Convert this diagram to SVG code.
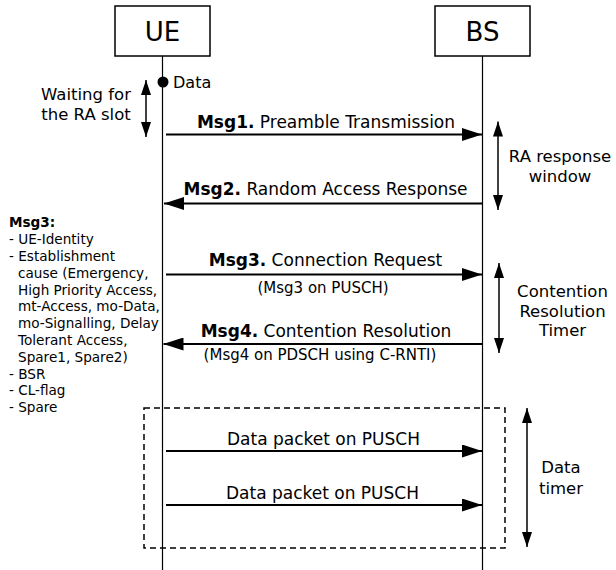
<svg xmlns="http://www.w3.org/2000/svg" width="616" height="570" viewBox="0 0 616 570">
  <defs>
    <style>
      text { font-family: "DejaVu Sans", "Noto Sans", sans-serif; fill: #000; }
      .box { fill: #fff; stroke: #000; stroke-width: 1.5; }
      .boxlabel { font-size: 26px; text-anchor: middle; }
      .life { stroke: #000; stroke-width: 1.2; fill: none; }
      .msg { stroke: #000; stroke-width: 1.8; fill: none; marker-end: url(#ah); }
      .dbl { stroke: #000; stroke-width: 1.5; fill: none; marker-start: url(#vh); marker-end: url(#vh); }
      .lbl { font-size: 17px; text-anchor: middle; }
      .sub { font-size: 15px; text-anchor: middle; }
      .side { font-size: 16.5px; text-anchor: middle; }
      .note { font-size: 13.6px; }
      .b { font-weight: bold; }
      .dash { fill: none; stroke: #000; stroke-width: 1.5; stroke-dasharray: 6 4; }
    </style>
    <marker id="ah" viewBox="0 0 20 13" refX="20" refY="6.5" markerWidth="20" markerHeight="13" markerUnits="userSpaceOnUse" orient="auto">
      <path d="M0,0 L20,6.5 L0,13 z" fill="#000"/>
    </marker>
    <marker id="vh" viewBox="0 0 15 10" refX="15" refY="5" markerWidth="15" markerHeight="10" markerUnits="userSpaceOnUse" orient="auto-start-reverse">
      <path d="M0,0 L15,5 L0,10 z" fill="#000"/>
    </marker>
  </defs>

  <g id="UE">
    <line class="life" x1="162.5" y1="56" x2="162.5" y2="570"/>
    <rect class="box" x="115" y="6" width="95" height="50"/>
    <text class="boxlabel" x="162.5" y="40.5">UE</text>
  </g>
  <g id="BS">
    <line class="life" x1="482.5" y1="56" x2="482.5" y2="570"/>
    <rect class="box" x="435" y="6" width="95" height="50"/>
    <text class="boxlabel" x="482.5" y="41">BS</text>
  </g>

  <g id="data-event">
    <circle cx="163" cy="82" r="5.5" fill="#000"/>
    <text x="173" y="87.5" style="font-size:16px">Data</text>
  </g>

  <g id="waiting">
    <line class="dbl" x1="146" y1="80" x2="146" y2="137"/>
    <text class="side" x="86" y="100">Waiting for</text>
    <text class="side" x="86" y="120">the RA slot</text>
  </g>

  <g id="msg3-note">
    <text class="note" x="9" y="227.3"><tspan class="b">Msg3:</tspan></text>
    <text class="note" x="9" y="244.1">- UE-Identity</text>
    <text class="note" x="9" y="260.9">- Establishment</text>
    <text class="note" x="18" y="277.7">cause (Emergency,</text>
    <text class="note" x="18" y="294.5">High Priority Access,</text>
    <text class="note" x="18" y="311.3">mt-Access, mo-Data,</text>
    <text class="note" x="18" y="328.1">mo-Signalling, Delay</text>
    <text class="note" x="18" y="344.9">Tolerant Access,</text>
    <text class="note" x="18" y="361.7">Spare1, Spare2)</text>
    <text class="note" x="9" y="378.5">- BSR</text>
    <text class="note" x="9" y="395.3">- CL-flag</text>
    <text class="note" x="9" y="412.1">- Spare</text>
  </g>

  <g id="connectors">
    <line class="msg" x1="166" y1="134.5" x2="482" y2="134.5"/>
    <line class="msg" x1="482" y1="203.5" x2="164" y2="203.5"/>
    <line class="msg" x1="166" y1="274.5" x2="482" y2="274.5"/>
    <line class="msg" x1="482" y1="344" x2="163.5" y2="344"/>
    <line class="msg" x1="166" y1="451" x2="482" y2="451"/>
    <line class="msg" x1="166" y1="505" x2="482" y2="505"/>
  </g>

  <g id="labels">
    <text class="lbl" x="326" y="128"><tspan class="b">Msg1.</tspan> Preamble Transmission</text>
    <text class="lbl" x="325.5" y="195"><tspan class="b">Msg2.</tspan> Random Access Response</text>
    <text class="lbl" x="325.5" y="265.5"><tspan class="b">Msg3.</tspan> Connection Request</text>
    <text class="sub" x="323" y="292.5">(Msg3 on PUSCH)</text>
    <text class="lbl" x="326" y="337"><tspan class="b">Msg4.</tspan> Contention Resolution</text>
    <text class="sub" x="320" y="360">(Msg4 on PDSCH using C-RNTI)</text>
    <text class="lbl" x="323.5" y="445">Data packet on PUSCH</text>
    <text class="lbl" x="322.5" y="498.5">Data packet on PUSCH</text>
  </g>

  <g id="ra-window">
    <line class="dbl" x1="498" y1="121.5" x2="498" y2="210"/>
    <text class="side" x="560" y="162">RA response</text>
    <text class="side" x="560" y="182">window</text>
  </g>

  <g id="contention-timer">
    <line class="dbl" x1="499" y1="263" x2="499" y2="353"/>
    <text class="side" x="562.5" y="297">Contention</text>
    <text class="side" x="562.5" y="316.5">Resolution</text>
    <text class="side" x="562.5" y="336">Timer</text>
  </g>

  <g id="data-timer">
    <rect class="dash" x="144" y="408" width="361" height="140"/>
    <line class="dbl" x1="527" y1="408" x2="527" y2="547"/>
    <text class="side" x="561" y="473">Data</text>
    <text class="side" x="561" y="494">timer</text>
  </g>
</svg>
